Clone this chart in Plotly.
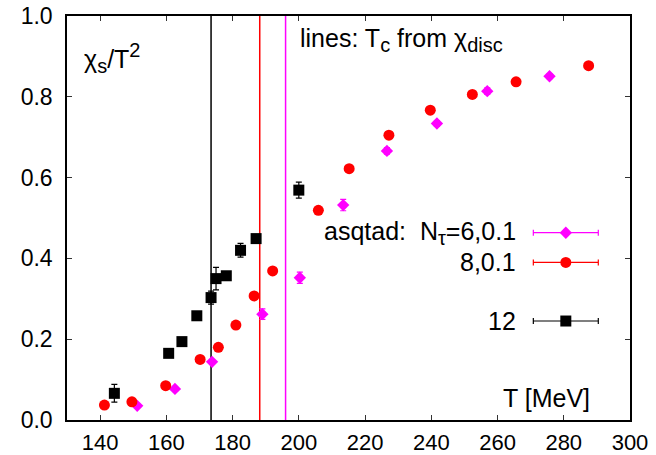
import plotly.graph_objects as go

# ---- data ----
T_n12 = [144.3, 160.7, 164.7, 169.2, 173.5, 175.0, 178.1, 182.4, 187.1, 200.0]
chi_n12 = [0.066, 0.165, 0.194, 0.258, 0.303, 0.350, 0.357, 0.420, 0.449, 0.569]
err_n12 = [0.022, 0.008, 0.008, 0.008, 0.016, 0.028, 0.008, 0.017, 0.008, 0.020]

T_n8 = [141.3, 149.6, 159.8, 170.2, 175.7, 181.0, 186.5, 192.1, 205.9, 215.2, 227.2, 239.7, 252.4, 265.6, 287.5]
chi_n8 = [0.037, 0.045, 0.085, 0.150, 0.180, 0.235, 0.307, 0.369, 0.519, 0.622, 0.705, 0.767, 0.806, 0.837, 0.877]
err_n8 = [0.004, 0.004, 0.004, 0.004, 0.004, 0.004, 0.005, 0.005, 0.005, 0.005, 0.005, 0.005, 0.005, 0.005, 0.005]

T_n6 = [151.2, 162.6, 173.8, 189.0, 200.3, 213.4, 226.6, 241.7, 256.9, 275.7]
chi_n6 = [0.035, 0.077, 0.144, 0.262, 0.352, 0.532, 0.666, 0.734, 0.814, 0.851]
err_n6 = [0.004, 0.004, 0.005, 0.013, 0.014, 0.014, 0.008, 0.007, 0.008, 0.006]

Tc_vals = [173.5, 188.2, 196.0]
Tc_colors = ["black", "red", "magenta"]

x_ticks = [140, 160, 180, 200, 220, 240, 260, 280, 300]
y_ticks = [0.0, 0.2, 0.4, 0.6, 0.8, 1.0]

FONT = "Liberation Sans, Arial, sans-serif"
FS_TXT = 25

fig = go.Figure()

# vertical Tc lines
for tc, col in zip(Tc_vals, Tc_colors):
    fig.add_trace(go.Scatter(x=[tc, tc], y=[0, 1], mode="lines",
                             line=dict(color=col, width=1.5), showlegend=False, hoverinfo="skip"))

def add_series(x, y, e, color, symbol, size, xa="x", ya="y", ex=None):
    fig.add_trace(go.Scatter(
        x=x, y=y, mode="markers", xaxis=xa, yaxis=ya,
        marker=dict(color=color, symbol=symbol, size=size, line=dict(width=0)),
        error_y=dict(type="data", array=e, color=color, thickness=1.2, width=3, visible=e is not None),
        error_x=dict(type="data", array=ex, color=color, thickness=1.2, width=3, visible=ex is not None),
        showlegend=False))

add_series(T_n6, chi_n6, err_n6, "#ff00ff", "diamond", 9.5)
add_series(T_n8, chi_n8, err_n8, "#ff0000", "circle", 11)
add_series(T_n12, chi_n12, err_n12, "#000000", "square", 11)

SUB = '<sub><span style="font-size:{}px">{}</span></sub>'
SUP = '<sup><span style="font-size:{}px">{}</span></sup>'

# legend samples on overlay axes (paper-like coordinates)
leg_x = 0.886
leg_half = 0.0577
leg_rows = [(0.4636, "#ff00ff", "diamond", 9.5, "asqtad:  N" + SUB.format(20, "τ") + "=6,0.1"),
            (0.390, "#ff0000", "circle", 11, "8,0.1"),
            (0.245, "#000000", "square", 11, "12")]
for ly, col, sym, sz, txt in leg_rows:
    add_series([leg_x], [ly], None, col, sym, sz, xa="x2", ya="y2", ex=[leg_half])
    fig.add_annotation(xref="paper", yref="paper", x=0.801, y=ly, text=txt,
                       xanchor="right", yanchor="middle", showarrow=False,
                       font=dict(family=FONT, size=FS_TXT, color="black"))

fig.add_annotation(xref="paper", yref="paper", x=0.027, y=0.895,
                   text="χ" + SUB.format(20, "s") + "/T" + SUP.format(20, "2"),
                   xanchor="left", yanchor="middle",
                   showarrow=False, font=dict(family=FONT, size=FS_TXT, color="black"))
fig.add_annotation(xref="paper", yref="paper", x=0.41, y=0.94,
                   text="lines: T" + SUB.format(20, "c") + " from χ" + SUB.format(20, "disc"),
                   xanchor="left", yanchor="middle",
                   showarrow=False, font=dict(family=FONT, size=FS_TXT, color="black"))
fig.add_annotation(xref="paper", yref="paper", x=0.933, y=0.054,
                   text="T [MeV]", xanchor="right", yanchor="middle",
                   showarrow=False, font=dict(family=FONT, size=FS_TXT, color="black"))

axis_common = dict(showline=True, linecolor="black", linewidth=1.5, mirror="ticks",
                   ticks="inside", ticklen=5, tickcolor="#333", tickwidth=1,
                   showgrid=False, zeroline=False, automargin=False)

fig.update_layout(
    width=656, height=455,
    margin=dict(l=67, r=26, t=16, b=35),
    plot_bgcolor="white", paper_bgcolor="white",
    xaxis=dict(range=[130, 300], tickvals=x_ticks, ticklabelstandoff=2,
               tickfont=dict(family=FONT, size=22, color="black"), **axis_common),
    yaxis=dict(range=[0, 1], tickvals=y_ticks, tickformat=".1f", ticklabelstandoff=8,
               tickfont=dict(family=FONT, size=23, color="black"), **axis_common),
    xaxis2=dict(range=[0, 1], overlaying="x", visible=False),
    yaxis2=dict(range=[0, 1], overlaying="y", visible=False),
    showlegend=False,
)

fig.write_html("out.html")
